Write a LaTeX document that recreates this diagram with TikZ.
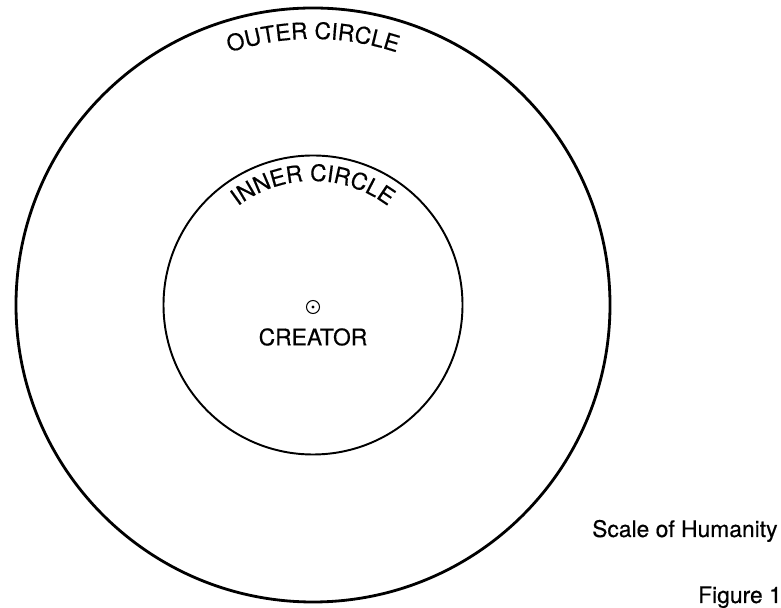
\documentclass[tikz,border=0pt]{standalone}
\usepackage{fontspec}
\setmainfont{TeX Gyre Heros}[FakeBold=0.4]
\usetikzlibrary{decorations.text}
\tikzset{
    label font/.style={font=\fontsize{13}{15}\selectfont},
    ring/.style={line width=#1, draw=black}
}
\begin{document}
\begin{tikzpicture}[x=0.02cm, y=0.02cm]
        \useasboundingbox (0,0) rectangle (781,608);
        % centre of both circles
        \coordinate (ctr) at (313,303);
        \coordinate (mark) at (313,301);

        % Circles
        \draw[ring=1.6pt] (ctr) circle (297);
        \draw[ring=1.1pt] (ctr) circle (149.5);

        % Creator
        \draw[line width=0.6pt] (mark) circle (6.5);
        \fill (mark) circle (1.6);
        \node[label font] (creator) at (313,271) {CREATOR};

        % Curved labels
        \path[decorate, decoration={text along path, text align=center,
            text={|\fontsize{13}{15}\selectfont|OUTER CIRCLE}}]
            ([shift={(160:266)}]ctr) arc (160:20:266);
        \path[decorate, decoration={text along path, text align=center,
            text={|\fontsize{13}{15}\selectfont|INNER CIRCLE}}]
            ([shift={(170:124)}]ctr) arc (170:10:124);

        % Labels
        \node[anchor=base west, label font] (scale) at (586,71) {Scale of Humanity};
        \node[anchor=base west, label font] (fig) at (692,5) {Figure 1};
\end{tikzpicture}
\end{document}
